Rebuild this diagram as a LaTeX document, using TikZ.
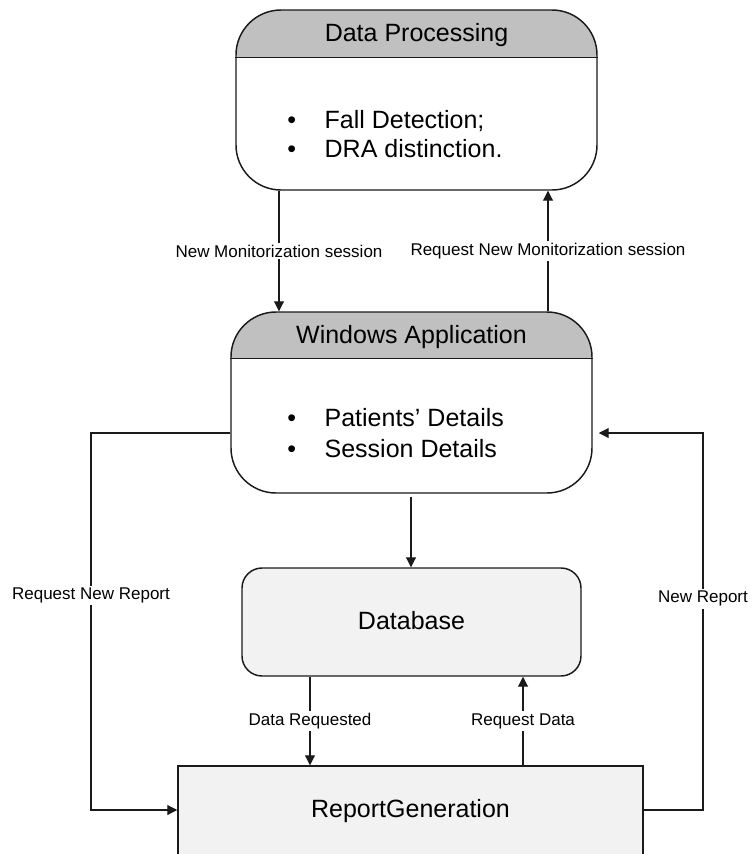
\documentclass[tikz,border=0pt]{standalone}
\usepackage{fontspec}
\setmainfont{Liberation Sans}
\usetikzlibrary{arrows.meta,fit}
\definecolor{hdrgray}{HTML}{C0C0C0}
\definecolor{boxfill}{HTML}{F2F2F2}
\definecolor{edge}{HTML}{1A1A1A}
\begin{document}
\begin{tikzpicture}[x=0.75pt,y=-0.75pt,
  big/.style={font=\fontsize{18.75}{22}\selectfont},
  small/.style={font=\fontsize{12.75}{15}\selectfont},
  panel/.style={draw=edge, line width=1.1pt, rounded corners=33.75pt,
    inner sep=0pt},
  store/.style={draw=edge, line width=1.1pt, rounded corners=15pt,
    inner sep=0pt, fill=boxfill},
  plainbox/.style={draw=edge, line width=1.1pt, inner sep=0pt, fill=boxfill},
  divider/.style={draw=edge, line width=1.1pt},
  title/.style={big, anchor=base, inner sep=0pt},
  item/.style={big, anchor=base west, inner sep=0pt},
  arr/.style={draw=edge, line width=0.8pt,
    -{Triangle[length=7.5pt,width=7.5pt]}},
  lbl/.style={small, fill=white, inner sep=1.5pt}]

\useasboundingbox (0,0) rectangle (753,854);
\clip (0,0) rectangle (753,854);

% panel backgrounds: white body with a grey title band
\begin{scope}
  \clip[rounded corners=33.75pt] (236,10) rectangle (597,190);
  \fill[white] (236,10) rectangle (597,190);
  \fill[hdrgray] (236,10) rectangle (597,58);
\end{scope}
\begin{scope}
  \clip[rounded corners=33.75pt] (231,312) rectangle (592,493);
  \fill[white] (231,312) rectangle (592,493);
  \fill[hdrgray] (231,312) rectangle (592,359);
\end{scope}

% Data Processing panel
\node[panel, fit={(236,10) (597,190)}] (dp) {};
\draw[divider] ([yshift=-36pt]dp.north west) -- ([yshift=-36pt]dp.north east);
\node[title] (dpt) at (416.5,41) {Data Processing};
\node[item] (dpi1) at (287,128) {•\hspace{21.5pt}Fall Detection;};
\node[item] (dpi2) at (287,157) {•\hspace{21.5pt}DRA distinction.};

% Windows Application panel
\node[panel, fit={(231,312) (592,493)}] (wa) {};
\draw[divider] ([yshift=-35.25pt]wa.north west) -- ([yshift=-35.25pt]wa.north east);
\node[title] (wat) at (411.5,343) {Windows Application};
\node[item] (wai1) at (287,426) {•\hspace{21.5pt}Patients’ Details};
\node[item] (wai2) at (287,457) {•\hspace{21.5pt}Session Details};

% Database
\node[store, fit={(242,568) (581,676)}] (db) {};
\node[title] (dbt) at (411.5,629) {Database};

% Report generation (runs past the lower edge)
\node[plainbox, fit={(178,766) (643,890)}] (rg) {};
\node[title] (rgt) at (410.5,817) {ReportGeneration};

% connector columns and loop corners
\coordinate (xa) at (279,0);
\coordinate (xb) at (548,0);
\coordinate (xc) at (411,0);
\coordinate (xd) at (310,0);
\coordinate (xe) at (523,0);
\coordinate (lt) at (91,433);
\coordinate (lb) at (91,810);
\coordinate (rt) at (703,433);
\coordinate (rb) at (703,810);

\draw[arr] (xa |- dp.south) -- node[lbl]{New Monitorization session} (xa |- wa.north);
\draw[arr] (xb |- wa.north) -- node[lbl]{Request New Monitorization session} (xb |- dp.south);
\draw[arr, shorten <=2.5pt] (xc |- wa.south) -- (xc |- db.north);
\draw[arr] (xd |- db.south) -- node[lbl]{Data Requested} (xd |- rg.north);
\draw[arr] (xe |- rg.north) -- node[lbl]{Request Data} (xe |- db.south);
\draw[arr] (wa.west |- lt) -- (lt) -- node[lbl, pos=0.43]{Request New Report} (lb) -- (rg.west |- lb);
\draw[arr, shorten >=4.5pt] (rg.east |- rb) -- (rb) -- node[lbl, pos=0.56]{New Report} (rt) -- (wa.east |- rt);
\end{tikzpicture}
\end{document}
